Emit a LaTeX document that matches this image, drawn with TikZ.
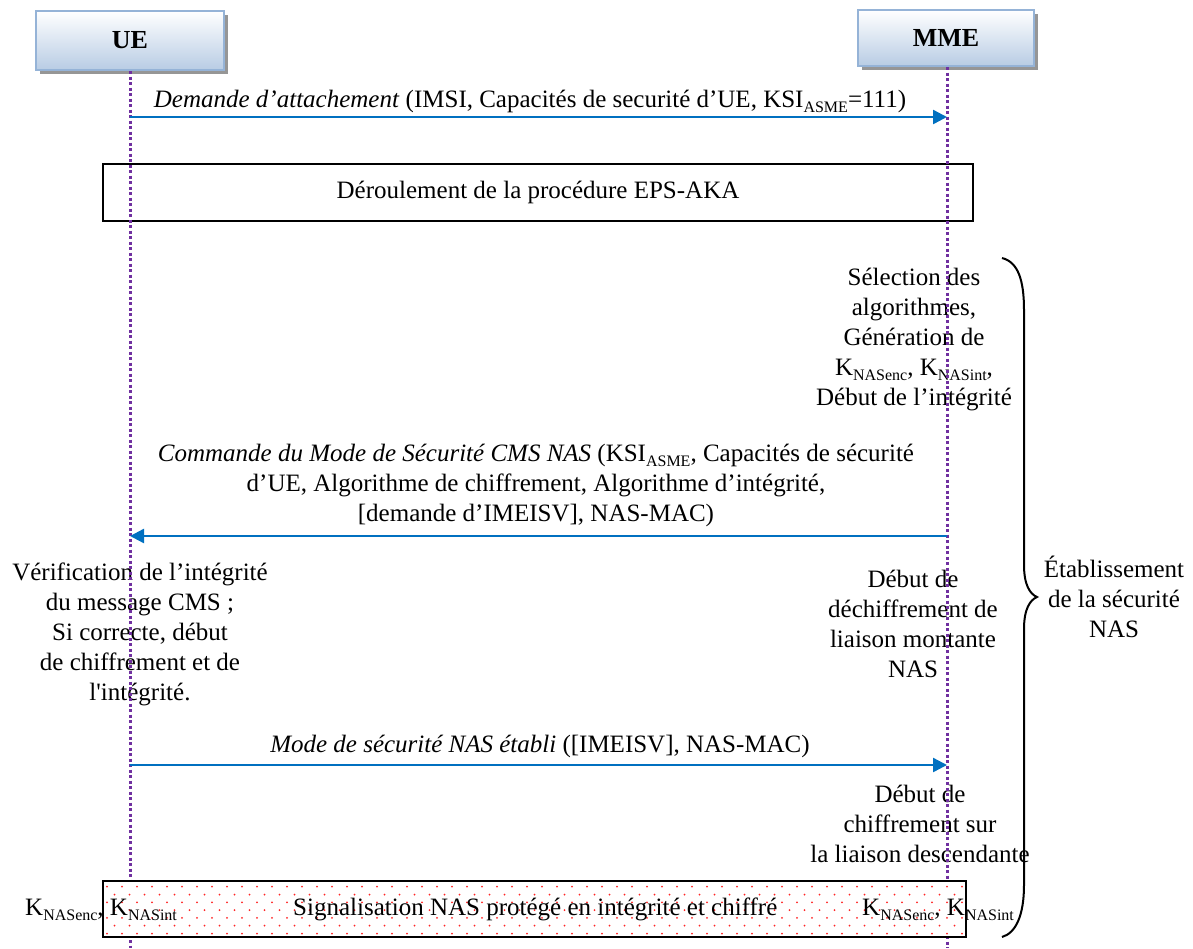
\documentclass[tikz,border=0pt]{standalone}
\usepackage{fontspec}
\setmainfont{Liberation Serif}
\newfontfamily\nomapfont{Liberation Serif}
\usetikzlibrary{arrows.meta}
\definecolor{lifecol}{RGB}{112,48,160}
\definecolor{arrcol}{RGB}{0,112,192}
\definecolor{hdrbot}{RGB}{184,204,228}
\definecolor{hdrline}{RGB}{149,179,215}
\definecolor{shadowcol}{RGB}{150,150,150}
\newcommand{\sbx}[1]{\raisebox{-5pt}{\fontsize{16}{16}\selectfont #1}}
\newcommand{\sq}{{\nomapfont'}}
\begin{document}
\begin{tikzpicture}[x=1pt,y=-1pt,
  font=\fontsize{25}{30}\selectfont,
  hdr/.style={draw=hdrline, line width=2pt, top color=white, bottom color=hdrbot,
    inner sep=0pt, font=\fontsize{26}{30}\selectfont\bfseries},
  lifeline/.style={draw=lifecol, line width=3pt, dash pattern=on 3pt off 2.5pt},
  msg/.style={draw=arrcol, line width=2.4pt, -{Triangle[length=14pt,width=14pt]}},
  note/.style={align=center, inner sep=0pt},
  lbl/.style={inner sep=0pt, anchor=base},
  boxline/.style={draw=black, line width=2.2pt},
]
\useasboundingbox (0,0) rectangle (1193,948);

% headers
\fill[shadowcol] (40,15) rectangle (228,74);
\node[hdr, minimum width=188pt, minimum height=59pt] (ue) at (130,40.5) {UE};
\fill[shadowcol] (862,14) rectangle (1038,70);
\node[hdr, minimum width=176pt, minimum height=56pt] (mme) at (946,38) {MME};

% texts
\node[lbl] (l1) at (530,107) {\textit{Demande d’attachement} (IMSI, Capacités de securité d’UE, KSI\sbx{ASME}=111)};
\node[boxline, minimum width=870pt, minimum height=57pt, inner sep=0pt] (eps) at (538,192.5) {Déroulement de la procédure EPS-AKA};
\node[note] (sel) at (914,339) {Sélection des\\algorithmes,\\Génération de\\K\sbx{NASenc}, K\sbx{NASint},\\Début de l’intégrité};
\node[note] (l2) at (536,485) {\textit{Commande du Mode de Sécurité CMS NAS} (KSI\sbx{ASME}, Capacités de sécurité\\d’UE, Algorithme de chiffrement, Algorithme d’intégrité,\\{}[demande d’IMEISV], NAS-MAC)};
\node[note] (verif) at (140,634) {Vérification de l’intégrité\\du message CMS ;\\Si correcte, début\\de chiffrement et de\\l\sq intégrité.};
\node[note] (dechif) at (913,624) {Début de\\déchiffrement de\\liaison montante\\NAS};
\node[lbl] (l3) at (540,752) {\textit{Mode de sécurité NAS établi} ([IMEISV], NAS-MAC)};
\node[note] (chif) at (920,824) {Début de\\chiffrement sur\\la liaison descendante};
\node[note] (etab) at (1114,597) {Établissement\\de la sécurité\\NAS};

% lifelines
\coordinate (ueend) at (130,948);
\coordinate (mmeend) at (947,948);
\draw[lifeline] (ue.south) -- (ueend);
\draw[lifeline] (mme.south -| mmeend) -- (mmeend);

% messages
\coordinate (m1a) at (130,117);
\coordinate (m1b) at (947,117);
\draw[msg] (m1a) -- (m1b);
\coordinate (m2a) at (947,536);
\coordinate (m2b) at (130,536);
\draw[msg] (m2a) -- (m2b);
\coordinate (m3a) at (130,765);
\coordinate (m3b) at (947,765);
\draw[msg] (m3a) -- (m3b);

% protected signalling box
\node[fill=white, minimum width=863pt, minimum height=56pt, inner sep=0pt] (nas) at (534.5,909) {};
\begin{scope}
  \clip (nas.north west) rectangle (nas.south east);
  \foreach \r in {0,...,6} {
    \pgfmathsetmacro{\yy}{886.7+\r*7.8}
    \pgfmathsetmacro{\off}{mod(\r,2)*7.5}
    \foreach \c in {0,...,58} {
      \fill[red!85] ({107+\off+\c*15},\yy) circle (1pt);
    }
  }
\end{scope}
\draw[boxline] (nas.north west) rectangle (nas.south east);
\node[lbl, anchor=base west] (k1) at (25,915) {K\sbx{NASenc}, K\sbx{NASint}};
\node[lbl, anchor=base west] (sig) at (293,915) {Signalisation NAS protégé en intégrité et chiffré};
\node[lbl, anchor=base west] (k2) at (862,915) {K\sbx{NASenc}, K\sbx{NASint}};

% brace
\draw[line width=2pt] (1002,258) .. controls (1018,262) and (1024,280) .. (1024,310)
  -- (1024,565) .. controls (1024,585) and (1030,594) .. (1037,597)
  .. controls (1030,600) and (1024,609) .. (1024,629)
  -- (1024,885) .. controls (1024,915) and (1016,933) .. (1002,937);
\end{tikzpicture}
\end{document}
